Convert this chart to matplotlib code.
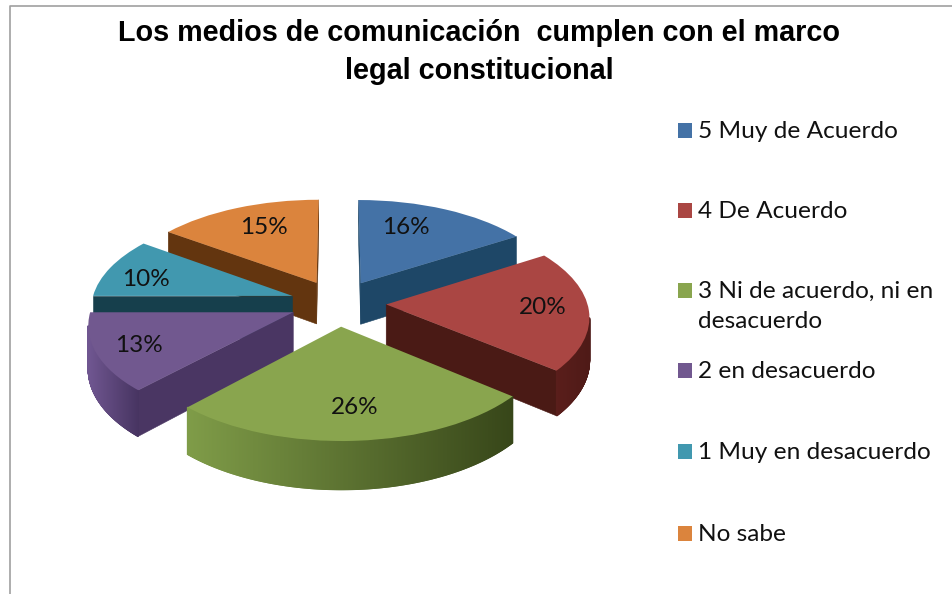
import numpy as np
import matplotlib
matplotlib.use("Agg")
import matplotlib.pyplot as plt
from matplotlib.colors import to_rgb
from matplotlib.patches import Rectangle
from matplotlib.transforms import Transform

# ---- data ----
categories = ["5 Muy de Acuerdo", "4 De Acuerdo", "3 Ni de acuerdo, ni en\ndesacuerdo",
              "2 en desacuerdo", "1 Muy en desacuerdo", "No sabe"]
values = [16, 20, 26, 13, 10, 15]
title = "Los medios de comunicación  cumplen con el marco\nlegal constitucional"

# ---- styles ----
top_colors = ["#4472A6", "#AA4643", "#89A54E", "#71588F", "#4198AF", "#DB843D"]
cut_colors = ["#1E4767", "#4A1A15", "#5D7330", "#4A3663", "#163F4C", "#63350F"]
wall_from = ["#2F5680", "#5E1F1C", "#7F9C48", "#6F5690", "#2B6C80", "#8A4F1E"]
wall_to = ["#2F5680", "#4E1A17", "#374619", "#473461", "#2B6C80", "#8A4F1E"]
draw_order = [5, 0, 4, 1, 3, 2]
label_xy = [(406, 228), (543, 308), (355, 407), (139, 346), (146, 280), (264, 228)]
legend_y = [130, 210, 290, 370, 451, 533]

# ---- projection of the tilted pie onto the canvas ----
CX, CY, A, B, K, DEPTH = 338.0, 303.0, 201.0, 96.3, 0.109, 42.0


def project(u, v, z=0.0):
    w = 1 + K * np.asarray(v)
    return CX + A * np.asarray(u) / w, CY + (-B * np.asarray(v) + z) / w


class Tilt(Transform):
    input_dims = output_dims = 2

    def transform_non_affine(self, pts):
        pts = np.asarray(pts, float)
        x, y = project(pts[:, 0], pts[:, 1])
        return np.column_stack([x, y])


fig = plt.figure(figsize=(9.53, 5.94), dpi=100, facecolor="white")
ax = fig.add_axes([0, 0, 1, 1])
wedges, _ = ax.pie(values, colors=top_colors, startangle=90, counterclock=False,
                   explode=[0.24] * len(values), radius=1.0,
                   wedgeprops=dict(linewidth=0))
ax.set_aspect("auto")
ax.set_xlim(0, 953)
ax.set_ylim(594, 0)
ax.axis("off")
tilt = Tilt() + ax.transData


def is_front(q):
    x, y = q[:, 0], q[:, 1]
    return np.sum(x * np.roll(y, -1) - np.roll(x, -1) * y) < 0


def quad(p, q):
    (u0, v0), (u1, v1) = p, q
    x0, y0 = project(u0, v0)
    x1, y1 = project(u1, v1)
    x2, y2 = project(u1, v1, DEPTH)
    x3, y3 = project(u0, v0, DEPTH)
    return np.array([[x0, y0], [x1, y1], [x2, y2], [x3, y3]])


for rank, i in enumerate(draw_order):
    wd = wedges[i]
    z = 10 + rank * 10
    cu, cv = wd.center
    th = np.radians(np.linspace(wd.theta2, wd.theta1, 401))  # clockwise on screen
    arc = np.column_stack([cu + wd.r * np.cos(th), cv + wd.r * np.sin(th)])
    apex = (cu, cv)
    for p, q in [(arc[-1], apex), (apex, arc[0])]:
        c = quad(p, q)
        if is_front(c):
            ax.fill(c[:, 0], c[:, 1], color=cut_colors[i], lw=0.4, zorder=z, clip_on=False)
    c0, c1 = np.array(to_rgb(wall_from[i])), np.array(to_rgb(wall_to[i]))
    # colour runs from screen-left to screen-right along the wall
    xs, _y = project(arc[:, 0], arc[:, 1])
    for j in range(len(arc) - 1):
        c = quad(arc[j], arc[j + 1])
        if is_front(c):
            t = (xs[j] - xs.min()) / (xs.max() - xs.min())
            ax.fill(c[:, 0], c[:, 1], color=c0 + (c1 - c0) * t, lw=1.0, zorder=z + 1, clip_on=False)
    wd.set_transform(tilt)
    wd.set_clip_on(False)
    wd.set_zorder(z + 2)

for v, (x, y) in zip(values, label_xy):
    ax.text(x, y, f"{v}%", ha="center", va="center", fontsize=17.5,
            family="Lato", color="#111111", zorder=200)

ax.text(479, 52, title, ha="center", va="center", fontsize=20.7, fontweight="bold",
        family="Liberation Sans", color="black", linespacing=1.42)

for name, col, y in zip(categories, top_colors, legend_y):
    ax.add_patch(Rectangle((678, y - 7), 14.5, 14.5, fc=col, ec="none"))
    ax.text(698, y - 9, name, ha="left", va="top", fontsize=17.6, family="Lato",
            color="#111111", linespacing=1.55)

# chart frame (top and left edges show in the crop)
ax.plot([10, 10, 953], [594, 6, 6], color="#A0A0A0", lw=1.2, clip_on=False)

fig.savefig("out.png", dpi=100)
